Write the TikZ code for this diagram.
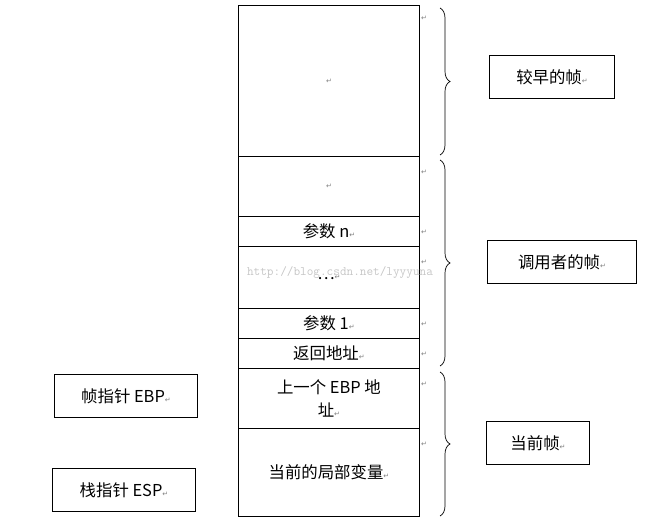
\documentclass[tikz,border=0pt]{standalone}
\usepackage{fontspec}
\setmainfont{Noto Sans CJK SC}
\newfontfamily\markfont{DejaVu Sans}
\usetikzlibrary{decorations.pathreplacing}
\newcommand{\pmark}{{\markfont\fontsize{6}{6}\selectfont\color{gray}↵}}

\tikzset{
  cell/.style={draw, thick, minimum width=5.43cm, inner sep=0pt, anchor=north west, align=center, font=\fontsize{14}{19}\selectfont},
  labelbox/.style={draw, thick, minimum height=1.3cm, inner sep=0pt, font=\fontsize{14}{16}\selectfont},
  stackbrace/.style={decorate, decoration={brace, amplitude=0.3cm}, semithick},
}

\begin{document}
\begin{tikzpicture}[x=0.03cm, y=-0.03cm]
    \useasboundingbox (0,0) rectangle (664,531);

    % stack cells
    \node[cell, minimum height=4.53cm] (early) at (238,5) {\pmark};
    \node[cell, minimum height=1.8cm] (blank) at (238,156) {\pmark};
    \node[cell, minimum height=0.9cm] (argn) at (238,216) {参数 n\pmark};
    \node[cell, minimum height=1.86cm] (dots) at (238,246) {…\pmark};
    \node[cell, minimum height=0.9cm] (arg1) at (238,308) {参数 1\pmark};
    \node[cell, minimum height=0.9cm] (ret) at (238,338) {返回地址\pmark};
    \node[cell, minimum height=1.8cm] (oldebp) at (238,368) {上一个 EBP 地\\址\pmark};
    \node[cell, minimum height=2.64cm] (locals) at (238,428) {当前的局部变量\pmark};

    % paragraph marks
    \foreach \y in {18,172,232,262,324,354,384,444}
      \node[inner sep=0pt] at (424,\y) {\pmark};

    % watermark
    \node[text=gray!45, font=\ttfamily\fontsize{11}{11}\selectfont] at (340,273) {http://blog.csdn.net/lyyyuna};

    % braces
    \coordinate (b1t) at (440,8);
    \coordinate (b1b) at (440,155);
    \coordinate (b2t) at (440,160);
    \coordinate (b2b) at (440,366);
    \coordinate (b3t) at (440,372);
    \coordinate (b3b) at (440,516);
    \draw[stackbrace] (b1t) -- (b1b);
    \draw[stackbrace] (b2t) -- (b2b);
    \draw[stackbrace] (b3t) -- (b3b);

    % labels
    \node[labelbox, minimum width=3.75cm] (earlyf) at (552,77) {较早的帧\pmark};
    \node[labelbox, minimum width=4.47cm] (callerf) at (562,262) {调用者的帧\pmark};
    \node[labelbox, minimum width=3.09cm] (curf) at (538,443) {当前帧\pmark};
    \node[labelbox, minimum width=4.29cm] (ebp) at (126,396) {帧指针 EBP\pmark};
    \node[labelbox, minimum width=4.29cm] (esp) at (124,490) {栈指针 ESP\pmark};
\end{tikzpicture}
\end{document}
